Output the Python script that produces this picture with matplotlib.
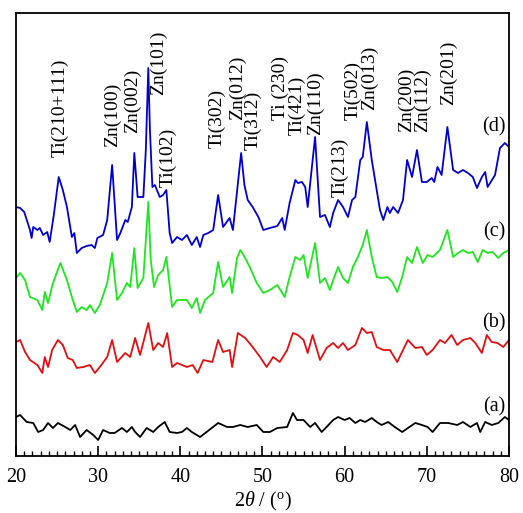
import matplotlib
matplotlib.use("Agg")
import matplotlib.pyplot as plt
from matplotlib.ticker import MultipleLocator

plt.rcParams['font.family'] = ['Liberation Serif', 'DejaVu Serif']
plt.rcParams['mathtext.fontset'] = 'custom'
plt.rcParams['mathtext.rm'] = 'Liberation Serif'
plt.rcParams['mathtext.it'] = 'Liberation Serif:italic'

# 2theta (deg) and offset intensity (a.u.)
two_theta_d = [20.0, 20.5, 21.0, 21.7, 21.9, 22.1, 22.6, 22.9, 23.3, 23.8, 24.1, 24.6, 25.2, 25.7,
               26.2, 26.8, 27.1, 27.4, 28.0, 28.6, 29.2, 29.6, 29.9, 30.6, 31.1, 31.7, 32.3, 32.7,
               33.3, 33.6, 34.1, 34.4, 34.8, 35.5, 35.8, 36.1, 36.3, 36.6, 36.9, 37.5, 37.9, 38.3,
               38.7, 39.0, 39.6, 40.2, 40.8, 41.4, 42.0, 42.4, 42.8, 43.4, 44.0, 44.6, 45.2, 46.0,
               46.4, 47.4, 47.8, 48.2, 48.8, 49.5, 50.1, 50.9, 51.8, 52.4, 52.7, 53.3, 54.0, 54.3,
               54.8, 55.2, 55.5, 56.4, 57.0, 57.6, 58.2, 58.6, 59.2, 59.8, 60.4, 60.9, 61.3, 61.9,
               62.2, 62.7, 63.3, 63.9, 64.3, 64.7, 65.2, 65.5, 65.9, 66.5, 67.1, 67.6, 68.2, 68.8,
               69.4, 70.0, 70.6, 70.9, 71.3, 71.8, 72.5, 73.2, 73.8, 74.4, 75.0, 75.6, 76.1, 76.7,
               77.1, 77.4, 78.3, 78.9, 79.5, 80.0]
int_d = [249, 248, 244, 226, 218, 229, 226, 228, 221, 224, 214, 241, 279, 266,
         249, 219, 223, 203, 208, 210, 211, 208, 218, 221, 236, 291, 216, 223,
         236, 234, 249, 303, 259, 259, 306, 388, 326, 269, 271, 259, 261, 266,
         223, 213, 219, 216, 221, 211, 219, 209, 221, 223, 226, 261, 229, 238,
         226, 303, 271, 256, 249, 239, 226, 228, 230, 238, 226, 253, 276, 273,
         274, 269, 249, 319, 239, 241, 229, 243, 256, 249, 239, 256, 259, 296,
         299, 334, 296, 266, 246, 236, 249, 243, 249, 243, 256, 296, 279, 306,
         274, 274, 278, 274, 289, 281, 329, 286, 283, 286, 283, 279, 268, 279,
         284, 269, 281, 308, 313, 309]

two_theta_c = [20.0, 20.5, 21.1, 21.7, 22.6, 23.2, 23.5, 23.9, 24.5, 25.4, 26.2, 26.8, 27.4, 28.0,
               28.6, 29.0, 29.6, 30.2, 31.1, 31.7, 32.3, 32.9, 33.5, 33.9, 34.4, 34.8, 35.5, 36.1,
               36.4, 36.8, 37.3, 37.9, 38.3, 39.0, 39.6, 40.2, 40.8, 41.4, 42.0, 42.4, 43.0, 44.0,
               44.6, 45.2, 46.0, 46.3, 46.9, 47.3, 47.9, 48.5, 49.3, 50.1, 50.9, 51.8, 52.7, 53.3,
               54.0, 54.6, 55.0, 55.5, 56.4, 57.0, 57.6, 58.2, 58.6, 59.2, 59.8, 60.4, 61.0, 61.6,
               62.2, 62.7, 63.3, 63.9, 64.5, 65.2, 65.8, 66.4, 67.0, 67.6, 68.2, 68.8, 69.5, 70.1,
               70.7, 71.6, 72.5, 73.2, 73.8, 74.4, 75.0, 75.6, 76.2, 76.8, 77.4, 78.0, 78.7, 79.3,
               80.0]
int_c = [178, 183, 176, 159, 156, 146, 164, 153, 173, 193, 176, 159, 144, 149,
         146, 151, 143, 151, 173, 203, 156, 163, 173, 169, 208, 168, 178, 254,
         196, 169, 181, 186, 199, 149, 156, 156, 156, 148, 158, 143, 156, 163,
         194, 169, 179, 163, 198, 206, 198, 188, 173, 163, 166, 171, 159, 179,
         199, 196, 201, 178, 213, 173, 178, 166, 176, 189, 178, 173, 189, 199,
         211, 226, 199, 179, 178, 179, 174, 164, 179, 199, 193, 209, 193, 201,
         199, 206, 226, 199, 203, 206, 203, 204, 194, 206, 203, 204, 198, 203,
         206]

two_theta_b = [20.0, 20.5, 21.1, 21.7, 22.6, 23.2, 23.5, 23.9, 24.4, 25.1, 25.7, 26.3, 26.9, 27.4,
               28.2, 29.0, 29.6, 30.2, 31.1, 31.7, 32.3, 33.3, 33.9, 34.5, 35.1, 36.1, 36.7, 37.3,
               37.9, 38.4, 39.0, 39.6, 40.8, 41.5, 42.1, 42.8, 43.9, 44.6, 45.2, 46.0, 46.3, 47.0,
               47.9, 48.8, 49.7, 50.5, 51.3, 52.1, 53.0, 53.7, 54.3, 55.0, 55.5, 56.1, 57.0, 57.8,
               58.6, 59.2, 59.8, 60.4, 61.3, 62.1, 62.7, 63.3, 63.9, 64.7, 65.5, 66.4, 67.1, 67.7,
               68.6, 69.4, 70.0, 70.7, 71.6, 72.2, 73.0, 73.7, 74.4, 75.3, 75.9, 76.7, 77.3, 77.9,
               78.6, 79.3, 80.0]
int_b = [114, 116, 104, 96, 91, 83, 99, 89, 106, 116, 111, 98, 96, 88,
         89, 91, 83, 89, 99, 116, 94, 103, 99, 118, 101, 133, 106, 113,
         109, 123, 89, 93, 89, 91, 83, 96, 94, 116, 104, 106, 89, 123,
         118, 109, 99, 89, 99, 94, 106, 123, 121, 116, 103, 121, 96, 108,
         113, 108, 113, 106, 111, 128, 123, 124, 109, 106, 106, 94, 106, 116,
         108, 109, 101, 106, 116, 113, 121, 111, 116, 118, 113, 103, 121, 114,
         113, 109, 116]

two_theta_a = [20.0, 20.5, 21.3, 22.1, 22.7, 23.3, 23.9, 24.5, 25.1, 26.0, 26.6, 27.2, 27.8, 28.6,
               29.4, 30.0, 30.6, 31.4, 32.0, 32.9, 33.5, 34.1, 34.5, 35.1, 35.9, 36.7, 37.3, 38.1,
               38.7, 39.6, 40.2, 40.8, 41.4, 42.4, 43.2, 44.6, 45.7, 46.4, 47.3, 48.2, 49.3, 50.1,
               50.9, 51.8, 53.0, 53.7, 54.2, 55.0, 55.8, 56.4, 57.2, 57.8, 58.6, 59.2, 60.0, 60.6,
               61.3, 61.9, 62.5, 63.3, 63.9, 64.5, 65.3, 66.1, 67.0, 67.7, 68.6, 69.4, 70.1, 70.7,
               71.6, 72.6, 73.7, 74.4, 75.3, 76.1, 76.5, 77.1, 77.9, 78.7, 79.5, 80.0]
int_a = [39, 41, 34, 33, 24, 26, 33, 28, 33, 29, 26, 31, 19, 26,
         21, 16, 26, 23, 23, 28, 24, 29, 24, 19, 28, 24, 29, 34,
         24, 23, 24, 28, 24, 19, 24, 33, 29, 29, 31, 29, 31, 24,
         24, 28, 29, 43, 36, 36, 29, 33, 24, 29, 36, 39, 36, 38,
         33, 36, 34, 38, 34, 31, 34, 29, 24, 28, 33, 31, 29, 24,
         33, 33, 31, 34, 29, 33, 24, 34, 31, 33, 39, 36]

# peak assignments: label, 2theta, height of label base
peak_labels = ['Ti(210+111)', 'Zn(100)', 'Zn(002)', 'Zn(101)', 'Ti(102)', 'Ti(302)', 'Zn(012)',
               'Ti(312)', 'Ti (230)', 'Ti(421)', 'Zn(110)', 'Ti(213)', 'Ti(502)', 'Zn(013)',
               'Zn(200)', 'Zn(112)', 'Zn(201)']
peak_pos = [25.35, 31.7, 34.2, 37.3, 38.5, 44.5, 47.0, 48.8, 52.2, 54.2, 56.4, 59.4, 61.0, 63.0,
            67.5, 69.5, 72.6]
peak_base = [299, 309, 323, 361, 269, 308, 336, 306, 336, 321, 321, 259, 336, 346, 324, 324, 351]

curve_names = ['(d)', '(c)', '(b)', '(a)']
curve_label_y = [329, 224, 133, 49]

fig = plt.figure(figsize=(5.23, 5.13), dpi=100)
ax = fig.add_axes([16 / 523, 1 - 456 / 513, 493 / 523, 443 / 513])

ax.plot(two_theta_d, int_d, color='#0000cc', lw=1.3)
ax.plot(two_theta_c, int_c, color='#1ee61e', lw=1.3)
ax.plot(two_theta_b, int_b, color='#e01010', lw=1.3)
ax.plot(two_theta_a, int_a, color='black', lw=1.3)

for lab, x, y in zip(peak_labels, peak_pos, peak_base):
    ax.text(x, y, lab, rotation=90, ha='center', va='bottom', fontsize=14)

for name, y in zip(curve_names, curve_label_y):
    ax.text(78.2, y, name, ha='center', va='center', fontsize=14.5)

ax.set_xlim(20, 80)
ax.set_ylim(0, 443)
ax.xaxis.set_major_locator(MultipleLocator(10))
ax.xaxis.set_minor_locator(MultipleLocator(1))
ax.tick_params(axis='x', which='major', direction='in', length=7, width=1.2, labelsize=14.5, pad=9)
ax.tick_params(axis='x', which='minor', direction='in', length=3.5, width=1.0)
ax.set_yticks([])
for sp in ax.spines.values():
    sp.set_linewidth(1.3)
ax.set_xlabel(r'2$\it{\theta}$ / ($^{\rm o}$)', fontsize=14.5, labelpad=2)

fig.savefig('out.png', dpi=100)
